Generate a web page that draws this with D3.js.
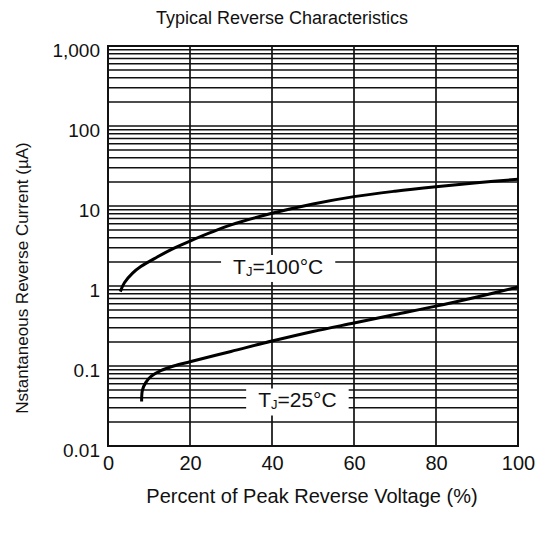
<!DOCTYPE html>
<html><head><meta charset="utf-8">
<script src="https://cdn.jsdelivr.net/npm/d3@7"></script>
<style>body{margin:0;background:#fff}svg{display:block}text{font-family:"Liberation Sans",Arial,sans-serif;fill:#111}</style>
</head><body><svg id="c" width="543" height="537"></svg>
<script>
const title = "Typical Reverse Characteristics";
const xTitle = "Percent of Peak Reverse Voltage (%)";
const yTitle = "Nstantaneous Reverse Current (µA)";
const xTicks = [0, 20, 40, 60, 80, 100];
const yTicks = [0.01, 0.1, 1, 10, 100, 1000];
const yTickLabels = ["0.01", "0.1", "1", "10", "100", "1,000"];
// T_J = 100°C
const hotX = [3, 4, 6, 8, 12, 16, 20, 30, 40, 50, 60, 70, 80, 90, 100];
const hotY = [0.85, 1.1, 1.45, 1.75, 2.3, 2.95, 3.65, 5.8, 8.1, 10.6, 13.1, 15.3, 17.4, 19.5, 21.6];
// T_J = 25°C
const coldX = [8.2, 8.4, 9.2, 10.5, 13, 16, 20, 30, 40, 50, 60, 70, 80, 90, 100];
const coldY = [0.036, 0.05, 0.062, 0.074, 0.088, 0.1, 0.113, 0.152, 0.205, 0.27, 0.345, 0.44, 0.56, 0.73, 0.97];
const seriesNames = ["100°C", "25°C"];
const labelAt = [[41.5, 1.68], [46.2, 0.036]];

const svg = d3.select("#c");
const L = 108, R = 518, T = 46, B = 446;
const x = d3.scaleLinear().domain([0, 100]).range([L, R]);
const y = d3.scaleLog().domain([0.01, 1000]).range([B, T]);

// grid
const minor = [];
for (let e = -2; e < 3; e++) for (let k = 1; k < 10; k++) minor.push(k * Math.pow(10, e));
minor.push(1000);
const g = svg.append("g");
g.selectAll("line.h").data(minor).join("line")
  .attr("x1", L).attr("x2", R).attr("y1", d => y(d)).attr("y2", d => y(d))
  .attr("stroke", "#111").attr("stroke-width", 1.5);
g.selectAll("line.v").data(xTicks).join("line")
  .attr("y1", T).attr("y2", B).attr("x1", d => x(d)).attr("x2", d => x(d))
  .attr("stroke", "#111").attr("stroke-width", 1.7);
svg.append("rect").attr("x", L).attr("y", T).attr("width", R - L).attr("height", B - T)
  .attr("fill", "none").attr("stroke", "#111").attr("stroke-width", 2);

const FF = '"Liberation Sans",Arial,sans-serif';
// axes labels
const xAxis = d3.axisBottom(x).tickValues(xTicks).tickSize(0).tickPadding(10);
svg.append("g").attr("transform", `translate(0,${B})`).call(xAxis)
  .call(s => s.select(".domain").remove())
  .selectAll("text").attr("font-size", 20).style("font-family", FF).attr("fill", "#111");
const yAxis = d3.axisLeft(y).tickValues(yTicks).tickFormat((d, i) => yTickLabels[i]).tickSize(0).tickPadding(8);
svg.append("g").attr("transform", `translate(${L},0)`).call(yAxis)
  .call(s => s.select(".domain").remove())
  .selectAll("text").attr("font-size", 19).attr("dy", "0.55em").style("font-family", FF).attr("fill", "#111");

// curves
const line = d3.line().x(d => x(d[0])).y(d => y(d[1])).curve(d3.curveCatmullRom.alpha(0.5));
[[hotX, hotY], [coldX, coldY]].forEach(([xs, ys]) => {
  svg.append("path").datum(xs.map((v, i) => [v, ys[i]])).attr("d", line)
    .attr("fill", "none").attr("stroke", "#000").attr("stroke-width", 3);
});

// curve labels
seriesNames.forEach((name, i) => {
  const [lx, ly] = labelAt[i];
  const gl = svg.append("g");
  const t = gl.append("text").attr("x", x(lx)).attr("y", y(ly)).attr("text-anchor", "middle")
    .attr("dominant-baseline", "middle").attr("font-size", 21);
  t.append("tspan").text("T");
  t.append("tspan").text("J").attr("font-size", 13).attr("dy", 5);
  t.append("tspan").text("=" + name).attr("dy", -5);
  const bb = t.node().getBBox();
  gl.insert("rect", "text").attr("x", bb.x - 12).attr("y", y(ly) - 13).attr("width", bb.width + 24).attr("height", 27).attr("fill", "#fff");
});

svg.append("text").attr("x", 282).attr("y", 24).attr("text-anchor", "middle").attr("font-size", 18).text(title);
svg.append("text").attr("x", 312).attr("y", 503).attr("text-anchor", "middle").attr("font-size", 20).text(xTitle);
svg.append("text").attr("transform", "translate(28,278) rotate(-90)").attr("text-anchor", "middle").attr("font-size", 17).text(yTitle);
</script></body></html>
